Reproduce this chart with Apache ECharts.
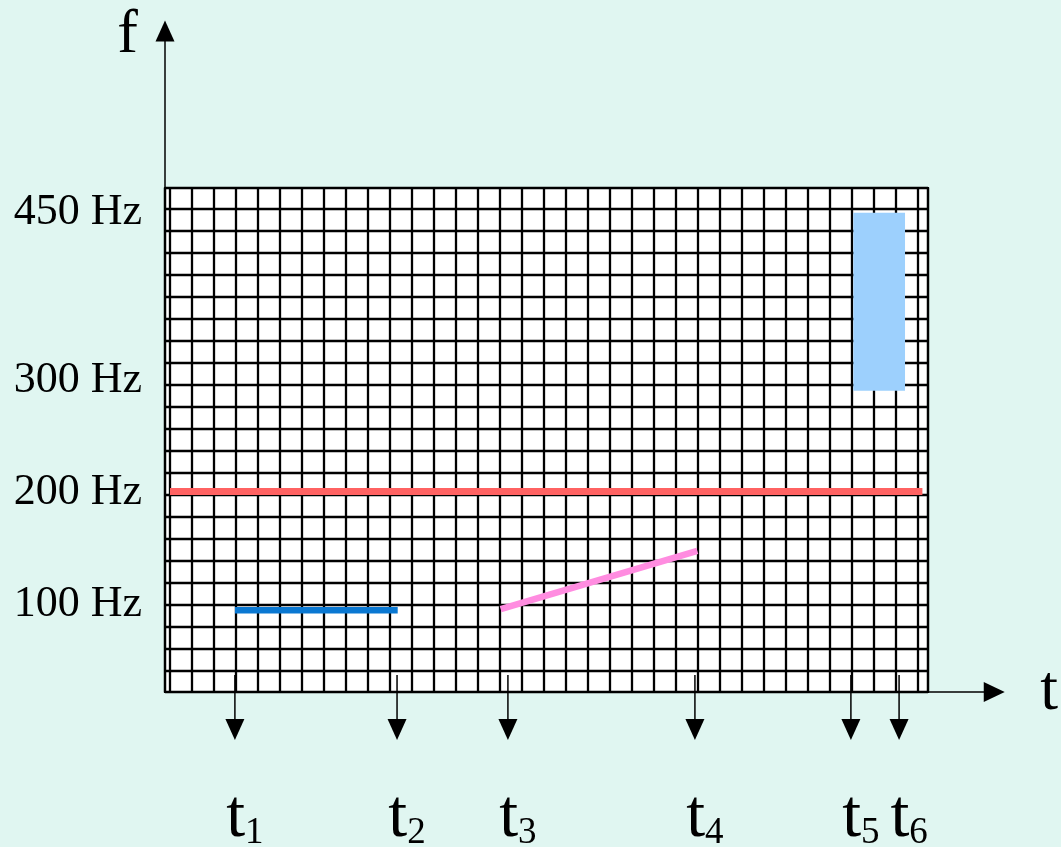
<!DOCTYPE html>
<html>
<head>
<meta charset="utf-8">
<script src="https://cdn.jsdelivr.net/npm/echarts@6/dist/echarts.min.js"></script>
<style>
html,body{margin:0;padding:0;background:#e0f6f1;}
#chart{width:1061px;height:847px;}
</style>
</head>
<body>
<div id="chart"></div>
<script>
// ---- data (time in grid-cell units, frequency in Hz) ----
const freqTicks = [100, 200, 300, 450];
const timeMarks = [2.95, 10.32, 15.36, 23.86, 30.95, 33.14];
const timeMarkLabels = ['1', '2', '3', '4', '5', '6'];
const redTone = [[0, 201], [34.2, 201]];
const blueTone = [[2.95, 95], [10.35, 95]];
const pinkChirp = [[15.03, 96], [23.97, 148]];
const noiseBand = [[31.06, 291, 33.41, 450]]; // t start, f low, t end, f high

const FREQ_MIN = 22, FREQ_MAX = 472;
const T_MIN = -0.2273, T_MAX = 34.4545;
const SERIF = "'Liberation Serif', 'Times New Roman', serif";

const chart = echarts.init(document.getElementById('chart'));
const option = {
  backgroundColor: '#e0f6f1',
  animation: false,
  grid: [
    {left: 165, top: 188, width: 763, height: 504, show: true, backgroundColor: '#ffffff', borderColor: '#000', borderWidth: 2.2, containLabel: false},
    {left: 165, top: 31, width: 837.5, height: 661, show: false, containLabel: false}
  ],
  xAxis: [
    {gridIndex: 0, type: 'value', min: T_MIN, max: T_MAX, minInterval: 1, maxInterval: 1,
     axisLine: {show: false}, axisTick: {show: false}, axisLabel: {show: false},
     splitLine: {show: true, lineStyle: {color: '#000', width: 2.3}}},
    {gridIndex: 1, type: 'value', min: 0, max: 1,
     axisLine: {show: true, symbol: ['none', 'triangle'], symbolSize: [20, 21], lineStyle: {color: '#000', width: 1.5}},
     axisTick: {show: false}, axisLabel: {show: false}, splitLine: {show: false},
     name: 't', nameLocation: 'end', nameGap: 46,
     nameTextStyle: {fontFamily: SERIF, fontSize: 64, color: '#000', verticalAlign: 'middle', padding: [0, 0, 24, 0]}}
  ],
  yAxis: [
    {gridIndex: 0, type: 'value', min: FREQ_MIN, max: FREQ_MAX,
     axisLine: {show: false}, axisTick: {show: false}, splitLine: {show: false},
     axisLabel: {show: true, customValues: freqTicks, formatter: '{value} Hz', margin: 23,
                 fontFamily: SERIF, fontSize: 44, color: '#000'}},
    {gridIndex: 0, type: 'value', min: 0.032, max: 22.941, minInterval: 1, maxInterval: 1,
     axisLine: {show: false}, axisTick: {show: false}, axisLabel: {show: false},
     splitLine: {show: true, lineStyle: {color: '#000', width: 2.3}}},
    {gridIndex: 1, type: 'value', min: 0, max: 1,
     axisLine: {show: true, symbol: ['none', 'triangle'], symbolSize: [19, 21], lineStyle: {color: '#000', width: 1.5}},
     axisTick: {show: false}, axisLabel: {show: false}, splitLine: {show: false},
     name: 'f', nameLocation: 'end', nameGap: -5,
     nameTextStyle: {fontFamily: SERIF, fontSize: 62, color: '#000', align: 'right', verticalAlign: 'middle', padding: [0, 27, 0, 0]}}
  ],
  series: [
    {type: 'line', xAxisIndex: 0, yAxisIndex: 0, data: redTone, symbol: 'none',
     lineStyle: {color: '#ff6262', width: 7}, z: 5},
    {type: 'line', xAxisIndex: 0, yAxisIndex: 0, data: blueTone, symbol: 'none',
     lineStyle: {color: '#0a78d2', width: 6.5}, z: 5},
    {type: 'line', xAxisIndex: 0, yAxisIndex: 0, data: pinkChirp, symbol: 'none',
     lineStyle: {color: '#ff8ce0', width: 6.5}, z: 5},
    {type: 'custom', coordinateSystem: 'cartesian2d', xAxisIndex: 0, yAxisIndex: 0,
     encode: {x: [0, 2], y: [1, 3]}, data: noiseBand, z: 4,
     renderItem: function (params, api) {
       const p1 = api.coord([api.value(0), api.value(3)]);
       const p2 = api.coord([api.value(2), api.value(1)]);
       return {type: 'rect', shape: {x: p1[0], y: p1[1], width: p2[0] - p1[0], height: p2[1] - p1[1]},
               style: {fill: '#9dd0fd'}};
     }},
    {type: 'custom', coordinateSystem: 'cartesian2d', xAxisIndex: 0, yAxisIndex: 0, clip: false,
     encode: {x: 0, y: 1}, data: timeMarks.map(function (t) { return [t, FREQ_MIN]; }), z: 6,
     renderItem: function (params, api) {
       const p = api.coord([api.value(0), FREQ_MIN]);
       const x = p[0], y0 = p[1];
       const lab = timeMarkLabels[params.dataIndex];
       return {type: 'group', children: [
         {type: 'line', shape: {x1: x, y1: y0 - 17, x2: x, y2: y0 + 30}, style: {stroke: '#000', lineWidth: 1.5}},
         {type: 'polygon', shape: {points: [[x - 9.5, y0 + 27], [x + 9.5, y0 + 27], [x, y0 + 48]]}, style: {fill: '#000'}},
         {type: 'text', x: x + 10, y: y0 + 160,
          style: {text: '{t|t}{s|' + lab + '}', align: 'center', verticalAlign: 'bottom',
                  rich: {
                    t: {fontFamily: SERIF, fontSize: 68, lineHeight: 68, color: '#000', verticalAlign: 'bottom'},
                    s: {fontFamily: SERIF, fontSize: 37, lineHeight: 37, color: '#000', verticalAlign: 'bottom'}
                  }}}
       ]};
     }}
  ]
};
chart.setOption(option);
</script>
</body>
</html>
